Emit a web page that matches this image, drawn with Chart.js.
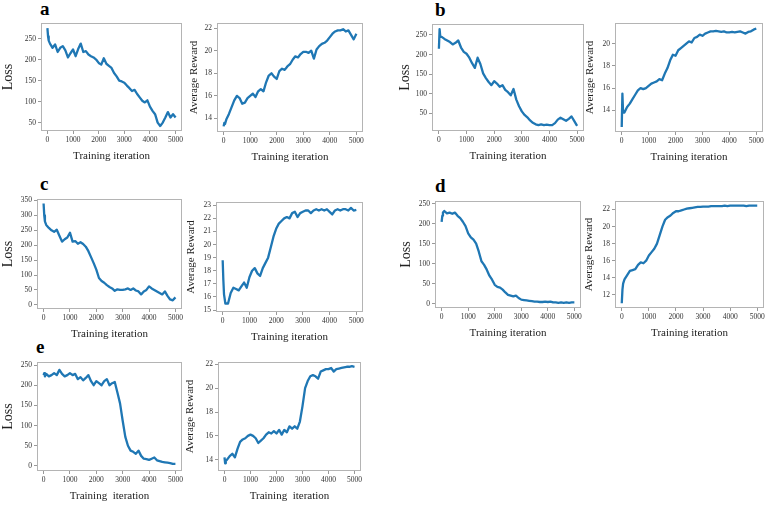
<!DOCTYPE html>
<html>
<head>
<meta charset="utf-8">
<script src="https://cdn.jsdelivr.net/npm/chart.js@4.4.0/dist/chart.umd.min.js"></script>
<style>
body{margin:0;background:#fff;width:781px;height:505px;position:relative;overflow:hidden}
canvas{position:absolute}
.tag{position:absolute;font:bold 19px 'Liberation Serif',serif;line-height:19px;color:#000}
</style>
</head>
<body>
<div class="tag" style="left:40px;top:-1px">a</div>
<div class="tag" style="left:435px;top:0px">b</div>
<div class="tag" style="left:40px;top:174px">c</div>
<div class="tag" style="left:435px;top:176px">d</div>
<div class="tag" style="left:36px;top:337px">e</div>
<script>
// training iterations (shared x values)
var iters=[0,25,50,100,200,300,400,500,600,700,800,900,1000,1100,1200,1300,1400,1500,1600,1700,1800,1900,2000,
  2100,2200,2300,2400,2500,2600,2700,2800,2900,3000,3100,3200,3300,3400,3500,3600,3700,3800,3900,4000,
  4100,4200,4300,4400,4500,4600,4700,4800,4900,5000]

// a
var lossA=[275,255,245,238,228,236,218,228,232,222,205,215,224,208,225,238,218,220,212,208,205,200,192,
  188,203,190,185,180,168,160,150,148,145,138,132,125,128,118,110,102,98,103,88,78,70,50,42,50,62,75,62,70,62]
var rewardA=[13.3,13.6,13.5,13.9,14.4,15.0,15.6,16.0,15.8,15.3,15.4,15.8,16.0,16.2,15.9,16.4,16.6,16.4,17.2,17.8,18.0,17.7,17.5,
  18.2,18.4,18.3,18.6,18.8,19.2,19.5,19.4,19.7,19.9,19.9,19.8,20.0,19.3,20.1,20.4,20.6,20.7,20.9,21.2,
  21.5,21.7,21.8,21.8,21.9,21.7,21.8,21.4,21.0,21.5]
// b
var lossB=[215,265,245,245,240,236,232,226,230,236,218,207,202,192,178,166,192,176,152,140,130,122,132,
  126,118,122,110,104,96,112,85,68,55,46,40,32,26,22,20,22,20,21,20,20,25,34,39,35,31,36,42,30,18]
var rewardB=[12.5,15.5,13.8,13.8,14.3,14.6,15.0,15.4,15.8,16.0,15.9,16.0,16.2,16.4,16.5,16.6,16.8,16.7,17.3,17.8,18.5,19.0,18.9,
  19.4,19.6,19.8,20.0,20.2,20.1,20.5,20.6,20.8,20.7,20.9,21.0,21.1,21.1,21.15,21.1,21.05,21.1,21.0,21.0,
  21.05,21.0,21.05,21.1,21.0,20.9,21.05,21.1,21.25,21.35]
// c
var lossC=[340,300,280,268,258,250,245,252,232,212,220,226,242,212,214,205,210,204,195,180,160,140,118,
  90,80,74,66,60,55,47,52,50,50,52,55,50,55,48,45,35,45,50,62,55,50,45,40,35,45,30,18,15,25]
var rewardC=[18.8,17.3,16.2,15.5,15.5,16.3,16.7,16.6,16.5,16.8,17.1,16.7,17.5,18.0,18.2,17.8,17.6,18.2,18.6,19.0,19.8,20.6,21.2,
  21.6,21.8,22.0,22.1,22.0,22.4,22.5,22.1,22.4,22.5,22.6,22.6,22.4,22.6,22.7,22.6,22.7,22.6,22.7,22.5,
  22.3,22.6,22.7,22.6,22.7,22.7,22.6,22.8,22.6,22.65]
// d
var lossD=[205,220,228,232,226,228,225,228,220,214,205,194,176,166,160,150,130,106,97,85,70,60,47,
  42,40,35,28,22,20,18,20,14,10,9,8,7,6,5,5,4,4,5,4,5,3,3,2,3,2,3,2,3,3]
var rewardD=[11.0,12.6,13.3,13.8,14.3,14.8,14.9,15.0,15.5,15.8,15.7,16.0,16.6,17.0,17.4,18.0,19.0,20.0,20.8,21.1,21.3,21.6,21.8,
  21.8,21.9,22.0,22.1,22.15,22.2,22.25,22.3,22.3,22.35,22.35,22.35,22.4,22.4,22.4,22.4,22.4,22.45,22.4,22.45,
  22.45,22.45,22.45,22.45,22.45,22.4,22.45,22.45,22.45,22.45]
// e
var lossE=[225,230,222,228,222,225,230,225,238,228,222,225,230,225,228,215,220,212,218,225,210,200,210,
  205,200,210,215,200,205,208,182,155,112,72,50,38,35,30,38,25,18,17,15,18,21,14,12,10,9,8,7,5,5]
var rewardE=[14.2,13.7,13.9,14.0,14.3,14.5,14.2,14.9,15.5,15.7,15.8,16.0,16.1,16.0,15.8,15.4,15.6,15.8,16.1,16.3,16.2,16.4,16.2,
  16.5,16.1,16.5,16.3,16.8,16.6,16.8,16.6,17.2,18.5,20.0,20.6,21.0,21.1,21.0,20.8,21.4,21.5,21.6,21.6,
  21.7,21.4,21.6,21.65,21.7,21.75,21.8,21.8,21.85,21.8]

// tick labels
var xTicks=[0,1000,2000,3000,4000,5000]
var lossTicks=[50,100,150,200,250]
var lossTicks0=[0,50,100,150,200,250]
var lossTicksC=[0,50,100,150,200,250,300,350]
var rewardTicksA=[14,16,18,20,22]
var rewardTicksB=[14,16,18,20]
var rewardTicksC=[15,16,17,18,19,20,21,22,23]
var rewardTicksD=[12,14,16,18,20,22]
var rewardTicksE=[14,16,18,20,22]

var serif='Liberation Serif'

var boxPlugin={
  id:'box',
  afterDraw:function(chart){
    var a=chart.chartArea, c=chart.ctx
    c.save()
    c.strokeStyle='#b4b4b4'
    c.lineWidth=1
    c.strokeRect(a.left+0.5,a.top+0.5,a.right-a.left-1,a.bottom-a.top-1)
    c.restore()
  }
}

function panel(p){
  var lh=p.tsize*1.2
  var left=Math.round(p.tx-lh/2)
  var padL=p.box[0]-left
  var w=Math.round(padL+(p.box[2]-p.box[0])+16)
  var h=Math.round(8+(p.box[3]-p.box[1])+32)
  var cv=document.createElement('canvas')
  cv.width=w; cv.height=h
  cv.style.left=left+'px'; cv.style.top=(p.box[1]-8)+'px'
  cv.style.width=w+'px'; cv.style.height=h+'px'
  document.body.appendChild(cv)
  var pts=iters.map(function(x,i){return {x:x,y:p.y[i]}})
  new Chart(cv,{
    type:'line',
    data:{datasets:[{data:pts,borderColor:'#1f77b4',borderWidth:2.3,pointRadius:0,tension:0,fill:false,borderJoinStyle:'round'}]},
    options:{
      responsive:false,animation:false,events:[],devicePixelRatio:1,
      layout:{padding:{top:8,right:16,left:0,bottom:0}},
      plugins:{legend:{display:false},tooltip:{enabled:false}},
      scales:{
        x:{
          type:'linear',min:-250,max:5250,
          afterBuildTicks:function(s){s.ticks=xTicks.map(function(v){return {value:v}})},
          afterFit:function(s){s.height=32},
          grid:{drawOnChartArea:false,tickLength:3,color:'#999'},
          border:{display:false},
          ticks:{font:{family:serif,size:7.5},color:'#333',padding:2,maxRotation:0,autoSkip:false,
            callback:function(v){return String(v)}},
          title:{display:true,text:p.xt,font:{family:serif,size:11},color:'#222',padding:0}
        },
        y:{
          type:'linear',min:p.min,max:p.max,
          afterBuildTicks:function(s){s.ticks=p.ticks.map(function(v){return {value:v}})},
          afterFit:function(s){s.width=padL},
          grid:{drawOnChartArea:false,tickLength:3,color:'#999'},
          border:{display:false},
          ticks:{font:{family:serif,size:7.5},color:'#333',padding:2,autoSkip:false,
            callback:function(v){return String(v)}},
          title:{display:true,text:p.yt,font:{family:serif,size:p.tsize},color:'#222',padding:0}
        }
      }
    },
    plugins:[boxPlugin]
  })
}

var xt='Training iteration'
panel({box:[41,23,182,131],tx:8,tsize:14,yt:'Loss',xt:xt,y:lossA,min:30,max:287,ticks:lossTicks})
panel({box:[217,23,363,132],tx:195,tsize:11,yt:'Average Reward',xt:xt,y:rewardA,min:12.8,max:22.45,ticks:rewardTicksA})
panel({box:[432,24,584,131],tx:405,tsize:14,yt:'Loss',xt:xt,y:lossB,min:5,max:278,ticks:lossTicks})
panel({box:[615,23,763,132],tx:591,tsize:11,yt:'Average Reward',xt:xt,y:rewardB,min:12.05,max:21.85,ticks:rewardTicksB})
panel({box:[37,199,182,309],tx:8,tsize:14,yt:'Loss',xt:xt,y:lossC,min:-14,max:355,ticks:lossTicksC})
panel({box:[216,202,363,312],tx:192,tsize:11,yt:'Average Reward',xt:xt,y:rewardC,min:14.85,max:23.25,ticks:rewardTicksC})
panel({box:[435,201,581,308],tx:406,tsize:14,yt:'Loss',xt:xt,y:lossD,min:-11,max:257,ticks:lossTicks0})
panel({box:[615,201,764,308],tx:590,tsize:11,yt:'Average Reward',xt:xt,y:rewardD,min:10.45,max:23,ticks:rewardTicksD})
panel({box:[37,362,182,471],tx:8,tsize:14,yt:'Loss',xt:'Training  iteration',y:lossE,min:-12.5,max:257.5,ticks:lossTicks0})
panel({box:[218,362,361,471],tx:191,tsize:11,yt:'Average Reward',xt:'Training  iteration',y:rewardE,min:13.05,max:22.2,ticks:rewardTicksE})
</script>
</body>
</html>
